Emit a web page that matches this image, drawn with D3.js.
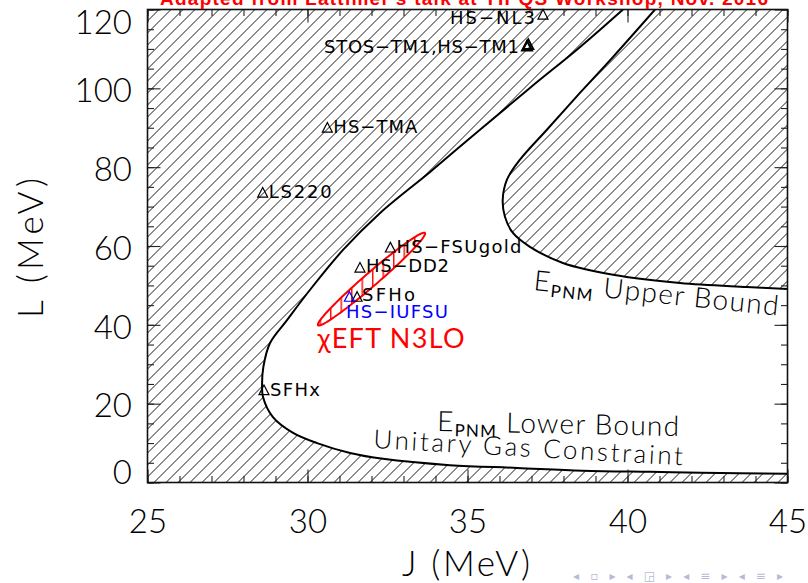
<!DOCTYPE html>
<html>
<head>
<meta charset="utf-8">
<script src="https://cdn.jsdelivr.net/npm/d3@7"></script>
<style>
  html, body { margin: 0; padding: 0; background: #fff; }
  svg { display: block; }
</style>
</head>
<body>
<svg id="chart" width="808" height="583"></svg>
<script>
// ---- axis ranges and ticks ----
const xDomain = [25, 45];
const yDomain = [0, 120];
const xMajorTicks = [25, 30, 35, 40, 45];
const yMajorTicks = [0, 20, 40, 60, 80, 100, 120];
const xMinorStep = 1;
const yMinorStep = 5;

// ---- E_PNM lower bound / unitary gas contour (top edge -> turning point -> bottom) ----
const lowerBoundJ = [39.86, 38.52, 36.95, 35.39, 33.83, 32.27, 31.11, 30.08, 29.36, 28.83, 28.62, 28.58, 28.61, 28.92, 29.55, 30.30, 31.33, 32.36, 34.45, 36.55, 38.60, 40.70, 42.30, 45.00];
const lowerBoundL = [120.0, 110.5, 100.1, 89.5, 78.8, 68.4, 59.0, 48.9, 41.2, 35.4, 29.3, 25.0, 21.7, 16.6, 12.6, 10.0, 7.5, 6.0, 4.4, 3.7, 3.0, 2.7, 2.5, 2.2];

// ---- E_PNM upper bound contour ----
const upperBoundJ = [40.86, 39.55, 38.52, 37.48, 36.64, 36.23, 36.10, 36.17, 36.42, 36.95, 37.98, 39.55, 41.64, 43.73, 45.00];
const upperBoundL = [120.0, 108.0, 98.9, 89.5, 81.9, 76.8, 71.7, 67.4, 63.3, 59.8, 55.7, 52.7, 50.6, 49.6, 49.1];

// ---- nuclear interaction models ----
const modelNames = ["HS−NL3", "STOS−TM1", "HS−TM1", "HS−TMA", "LS220", "HS−FSUgold", "HS−DD2", "SFHo", "HS−IUFSU", "SFHx"];
const modelJ = [37.36, 36.86, 36.90, 30.62, 28.60, 32.59, 31.64, 31.55, 31.31, 28.64];
const modelL = [118.8, 110.8, 111.2, 90.1, 73.6, 59.7, 54.6, 47.2, 47.2, 23.5];

// ---- chiral EFT N3LO band (ellipse: centre, upper tip, minor/major ratio) ----
const eftCenter = [32.0, 51.6];
const eftTip = [33.67, 63.3];
const eftAxisRatio = 0.095;

// ---- texts ----
const titleText = "Adapted from Lattimer's talk at YIPQS Workshop, Nov. 2016";
const xTitle = "J (MeV)";
const yTitle = "L (MeV)";

// ------------------------------------------------------------------
const LATO = "Lato, 'Liberation Sans', Arial, sans-serif";
const DEJAVU = "'DejaVu Sans', sans-serif";
const svg = d3.select("#chart").style("font-family", LATO);
const x = d3.scaleLinear().domain(xDomain).range([147.5, 787.5]);
const y = d3.scaleLinear().domain(yDomain).range([482.5, 9.5]);
const [x0, x1] = x.range();
const [y0, y1] = y.range();

const defs = svg.append("defs");

// diagonal "/" hatching for excluded regions
const hatch = defs.append("pattern")
  .attr("id", "hatch").attr("patternUnits", "userSpaceOnUse")
  .attr("x", 0.5).attr("y", 0).attr("width", 12).attr("height", 12);
hatch.append("path")
  .attr("d", "M-1,1 L1,-1 M0,12 L12,0 M11,13 L13,11")
  .attr("stroke", "#000").attr("stroke-width", 0.9).attr("fill", "none");

// vertical red hatching inside the chiral EFT band
const vhatch = defs.append("pattern")
  .attr("id", "vhatch").attr("patternUnits", "userSpaceOnUse")
  .attr("x", 4.5).attr("y", 0).attr("width", 10.5).attr("height", 10);
vhatch.append("line")
  .attr("x1", 0.75).attr("x2", 0.75).attr("y1", 0).attr("y2", 10)
  .attr("stroke", "#ff0000").attr("stroke-width", 1.4);

defs.append("clipPath").attr("id", "plotClip")
  .append("rect").attr("x", x0).attr("y", y1).attr("width", x1 - x0).attr("height", y0 - y1);

const plot = svg.append("g").attr("clip-path", "url(#plotClip)");

const lowerPts = lowerBoundJ.map((j, i) => [x(j), y(lowerBoundL[i])]);
const upperPts = upperBoundJ.map((j, i) => [x(j), y(upperBoundL[i])]);
const curve = d3.line().curve(d3.curveCatmullRom.alpha(0.5));
const lowerPath = curve(lowerPts);
const upperPath = curve(upperPts);

// excluded region left of / below the lower bound
const leftRegion = `M${x(xDomain[0])},${y(yDomain[1])}L` + lowerPath.slice(1) +
  `L${x(xDomain[1])},${y(yDomain[0])}L${x(xDomain[0])},${y(yDomain[0])}Z`;
// excluded region right of the upper bound
const rightRegion = `M${x(xDomain[1])},${y(yDomain[1])}L` + upperPath.slice(1) + "Z";

plot.append("path").attr("d", leftRegion).attr("fill", "url(#hatch)");
plot.append("path").attr("d", rightRegion).attr("fill", "url(#hatch)");
plot.append("path").attr("d", lowerPath).attr("fill", "none").attr("stroke", "#000").attr("stroke-width", 2);
plot.append("path").attr("d", upperPath).attr("fill", "none").attr("stroke", "#000").attr("stroke-width", 2);

// chiral EFT ellipse
const c = [x(eftCenter[0]), y(eftCenter[1])];
const t = [x(eftTip[0]), y(eftTip[1])];
const a = [t[0] - c[0], t[1] - c[1]];
const b = [-a[1] * eftAxisRatio, a[0] * eftAxisRatio];
const ell = d3.range(0, 361, 3).map(d => {
  const r = d * Math.PI / 180;
  return [c[0] + a[0] * Math.cos(r) + b[0] * Math.sin(r), c[1] + a[1] * Math.cos(r) + b[1] * Math.sin(r)];
});
const ellPath = d3.line().curve(d3.curveLinearClosed)(ell);
plot.append("path").attr("d", ellPath).attr("fill", "url(#vhatch)");
plot.append("path").attr("d", ellPath).attr("fill", "none").attr("stroke", "#ff0000").attr("stroke-width", 2);

// ---- axes: ticks point inward on all four sides ----
function axisGroup(gen, tx, ty) {
  const g = svg.append("g").attr("transform", `translate(${tx},${ty})`).call(gen);
  g.select(".domain").remove();
  g.selectAll(".tick line").attr("stroke", "#222").attr("stroke-width", 1.1);
  return g;
}
const xMinor = d3.range(xDomain[0], xDomain[1] + 0.001, xMinorStep);
const yMinor = d3.range(yDomain[0], yDomain[1] + 0.001, yMinorStep);
axisGroup(d3.axisBottom(x).tickValues(xMinor).tickSize(-6.5).tickFormat(""), 0, y0);
axisGroup(d3.axisTop(x).tickValues(xMinor).tickSize(-6.5).tickFormat(""), 0, y1);
axisGroup(d3.axisLeft(y).tickValues(yMinor).tickSize(-6.5).tickFormat(""), x0, 0);
axisGroup(d3.axisRight(y).tickValues(yMinor).tickSize(-6.5).tickFormat(""), x1, 0);
axisGroup(d3.axisTop(x).tickValues(xMajorTicks).tickSize(-13).tickFormat(""), 0, y1);
axisGroup(d3.axisRight(y).tickValues(yMajorTicks).tickSize(-13).tickFormat(""), x1, 0);

const gx = axisGroup(d3.axisBottom(x).tickValues(xMajorTicks).tickSize(-13).tickPadding(0).tickFormat(d3.format("d")), 0, y0);
gx.attr("font-family", null).attr("font-size", null);
gx.selectAll("text")
  .attr("y", 50.5).attr("dy", 0)
  .style("font-family", LATO).style("font-size", "33px").style("font-weight", 300)
  .attr("fill", "#000");

const gy = axisGroup(d3.axisLeft(y).tickValues(yMajorTicks).tickSize(-13).tickPadding(15.5).tickFormat(d3.format("d")), x0, 0);
gy.selectAll("text")
  .style("font-family", LATO).style("font-size", "33px").style("font-weight", 300)
  .attr("fill", "#000")
  .attr("dy", d => d === yDomain[1] ? "0.73em" : d === yDomain[0] ? "0.03em" : "0.4em");

// frame
svg.append("rect").attr("x", x0).attr("y", y1).attr("width", x1 - x0).attr("height", y0 - y1)
  .attr("fill", "none").attr("stroke", "#111").attr("stroke-width", 1.6);

// ---- model markers and labels ----
const labelLayout = {
  "HS−NL3":     { text: "HS−NL3", dx: -8, dy: 10, anchor: "end", color: "#000", w: 85 },
  "STOS−TM1":   { text: "STOS−TM1,HS−TM1", dx: -8, dy: 7, anchor: "end", color: "#000", w: 195 },
  "HS−TM1":     null,
  "HS−TMA":     { text: "HS−TMA", dx: 6, dy: 6, anchor: "start", color: "#000", w: 84 },
  "LS220":      { text: "LS220", dx: 6, dy: 6, anchor: "start", color: "#000", w: 63 },
  "HS−FSUgold": { text: "HS−FSUgold", dx: 6, dy: 5.5, anchor: "start", color: "#000", w: 125 },
  "HS−DD2":     { text: "HS−DD2", dx: 6, dy: 5, anchor: "start", color: "#000", w: 83 },
  "SFHo":       { text: "SFHo", dx: 5, dy: 4.5, anchor: "start", color: "#000", w: 53 },
  "HS−IUFSU":   { text: "HS−IUFSU", dx: -3.5, dy: 21.5, anchor: "start", color: "#0000ff", w: 102 },
  "SFHx":       { text: "SFHx", dx: 6, dy: 6.5, anchor: "start", color: "#000", w: 50 }
};
const markerColor = name => name === "HS−IUFSU" ? "#0000ff" : "#000";
const tri = "M0,-4.8L5,4.8L-5,4.8Z";

const models = modelNames.map((n, i) => ({ name: n, J: modelJ[i], L: modelL[i] }));
const mg = svg.append("g");
mg.selectAll("path.m").data(models).join("path")
  .attr("class", "m")
  .attr("d", tri)
  .attr("transform", d => `translate(${x(d.J)},${y(d.L)})`)
  .attr("fill", "none")
  .attr("stroke", d => markerColor(d.name))
  .attr("stroke-width", d => d.name.includes("TM1") ? 2 : 1.2);

mg.selectAll("text.lab").data(models.filter(d => labelLayout[d.name])).join("text")
  .attr("class", "lab")
  .attr("x", d => x(d.J) + labelLayout[d.name].dx)
  .attr("y", d => y(d.L) + labelLayout[d.name].dy)
  .attr("text-anchor", d => labelLayout[d.name].anchor)
  .attr("fill", d => labelLayout[d.name].color)
  .style("font-family", DEJAVU)
  .style("font-size", "18px")
  .attr("textLength", d => labelLayout[d.name].w).attr("lengthAdjust", "spacing")
  .text(d => labelLayout[d.name].text);

// ---- annotations ----
svg.append("text")
  .attr("x", x(eftCenter[0]) - 54).attr("y", y(eftCenter[1]) + 69)
  .attr("fill", "#ff0000").style("font-size", "27px")
  .attr("textLength", 147).attr("lengthAdjust", "spacing")
  .text("χEFT N3LO");

function epnmLabel(px, py, angle, rest, len) {
  const tEl = svg.append("text")
    .attr("transform", `translate(${px},${py}) rotate(${angle})`)
    .style("font-size", "28px").style("font-weight", 300).attr("fill", "#000")
    .attr("textLength", len).attr("lengthAdjust", "spacing");
  tEl.append("tspan").text("E");
  tEl.append("tspan").style("font-size", "17px").style("font-weight", 400).attr("dy", 5).text("PNM");
  tEl.append("tspan").attr("dy", -5).text("\u00a0" + rest);
}
epnmLabel(533, 290, 6, "Upper Bound", 246);
epnmLabel(437, 431, 1.2, "Lower Bound", 242);

svg.append("text")
  .attr("transform", "translate(373,448) rotate(3.2)")
  .style("font-size", "26px").style("font-weight", 300).attr("fill", "#000")
  .attr("textLength", 310).attr("lengthAdjust", "spacing")
  .text("Unitary Gas Constraint");

// title (sits partly above the page edge)
svg.append("text")
  .attr("x", 464).attr("y", 5).attr("text-anchor", "middle")
  .style("font-family", "'Liberation Sans', Arial, sans-serif")
  .style("font-size", "19px").style("font-weight", "bold").attr("fill", "#ff0000")
  .attr("textLength", 608).attr("lengthAdjust", "spacing")
  .text(titleText);

// axis titles
svg.append("text")
  .attr("x", 466).attr("y", 576).attr("text-anchor", "middle")
  .style("font-size", "35px").style("font-weight", 300).attr("fill", "#000")
  .attr("textLength", 128).attr("lengthAdjust", "spacing")
  .text(xTitle);
svg.append("text")
  .attr("transform", "translate(43,248) rotate(-90)").attr("text-anchor", "middle")
  .style("font-size", "35px").style("font-weight", 300).attr("fill", "#000")
  .attr("textLength", 140).attr("lengthAdjust", "spacing")
  .text(yTitle);

// slide navigation symbols
svg.append("text")
  .attr("x", 783).attr("y", 580).attr("text-anchor", "end")
  .style("font-family", DEJAVU)
  .style("font-size", "12px").attr("fill", "#b3bbd6")
  .attr("textLength", 210).attr("lengthAdjust", "spacing")
  .text("◂ ▫ ▸ ◂ ◲ ▸ ◂ ≡ ▸ ◂ ≡ ▸");
</script>
</body>
</html>
